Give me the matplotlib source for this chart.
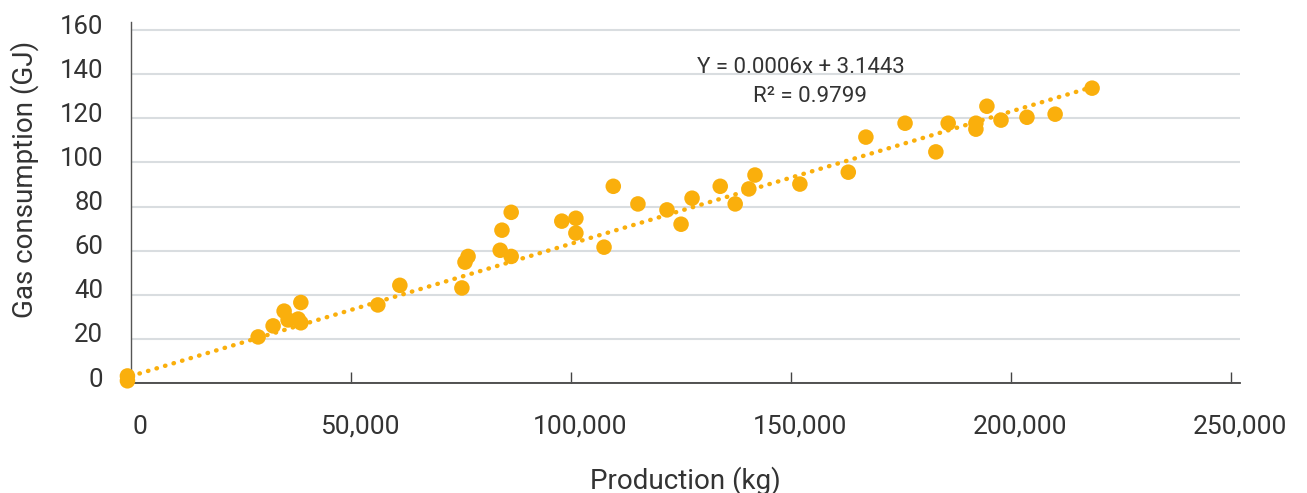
import numpy as np
import matplotlib
matplotlib.use("Agg")
import matplotlib.pyplot as plt
import matplotlib.transforms as mtransforms

plt.rcParams['font.family'] = ['Roboto', 'DejaVu Sans']

# Production (kg) と Gas consumption (GJ)
production = [-800, -800, 28900, 32300, 34800, 35700, 38000, 38600, 38600,
              56100, 61100, 75200, 75900, 76600, 83900, 84300, 86400, 86400,
              97900, 101100, 101100, 107500, 109600, 115200, 121800, 125000,
              127500, 133900, 137300, 140400, 141800, 152000, 163000, 167000,
              175900, 182900, 185700, 192000, 192000, 194500, 197700, 203600,
              210000, 218400]
gas = [3.2, 1.0, 20.9, 25.9, 32.6, 28.6, 29.0, 27.3, 36.5,
       35.4, 44.3, 43.1, 54.8, 57.4, 60.2, 69.3, 57.4, 77.4,
       73.4, 74.7, 68.0, 61.6, 89.2, 81.2, 78.5, 72.0,
       83.8, 89.2, 81.2, 88.0, 94.3, 90.2, 95.6, 111.5,
       117.8, 104.8, 117.8, 117.8, 115.1, 125.5, 119.2, 120.5,
       121.9, 133.7]

slope = 0.0006
intercept = 3.1443
r2 = 0.9799

xticks = [0, 50000, 100000, 150000, 200000, 250000]
yticks = [0, 20, 40, 60, 80, 100, 120, 140, 160]

color = '#FAAF0C'
text_color = '#333333'

fig = plt.figure(figsize=(13.07, 4.93), dpi=100)
ax = fig.add_axes([0.1002, 0.2231, 0.8485, 0.7323])

# 近似直線（点線）
x_line = np.array([0, max(production)])
ax.plot(x_line, slope * x_line + intercept, color=color, lw=3.2,
        linestyle=(0, (0.1, 1.9)), dash_capstyle='round', zorder=2)

ax.scatter(production, gas, s=125, color=color, edgecolors='none',
           zorder=3, clip_on=False)

ax.set_xlim(0, 252000)
ax.set_ylim(0, 163.7)
ax.set_xticks(xticks)
ax.set_xticklabels([f"{v:,}" for v in xticks])
ax.set_yticks(yticks)
ax.set_yticklabels([str(v) for v in yticks])

ax.grid(axis='y', color='#D9DDE0', lw=1.5, zorder=0)
ax.set_axisbelow(True)
for s in ['top', 'right']:
    ax.spines[s].set_visible(False)
ax.spines['left'].set_color('#555555')
ax.spines['bottom'].set_color('#444444')
ax.spines['left'].set_linewidth(1.0)
ax.spines['bottom'].set_linewidth(1.3)

ax.tick_params(axis='x', direction='in', length=8, width=1, color='#444444',
               pad=23, labelsize=19, labelcolor=text_color)
ax.tick_params(axis='y', length=0, pad=20, labelsize=18.5, labelcolor=text_color)

# 目盛りラベルの位置を少しずらす
offset_y = mtransforms.ScaledTranslation(0, 6 / 100, fig.dpi_scale_trans)
for lab in ax.get_yticklabels():
    lab.set_transform(lab.get_transform() + offset_y)
offset_x = mtransforms.ScaledTranslation(9 / 100, 0, fig.dpi_scale_trans)
for lab in ax.get_xticklabels():
    lab.set_transform(lab.get_transform() + offset_x)

# 軸ラベル
ax.text(0.5, -0.269, "Production (kg)", transform=ax.transAxes,
        ha='center', va='center', fontsize=20, color=text_color)
ax.text(-0.096, 0.565, "Gas consumption (GJ)", transform=ax.transAxes,
        ha='center', va='center', rotation=90, fontsize=20, color=text_color)

ax.text(0.6045, 0.874, f"Y = {slope}x + {intercept}", transform=ax.transAxes,
        ha='center', va='center', fontsize=16, color=text_color)
ax.text(0.6125, 0.794, f"R² = {r2}", transform=ax.transAxes,
        ha='center', va='center', fontsize=16, color=text_color)

fig.savefig("out.png", dpi=100)
